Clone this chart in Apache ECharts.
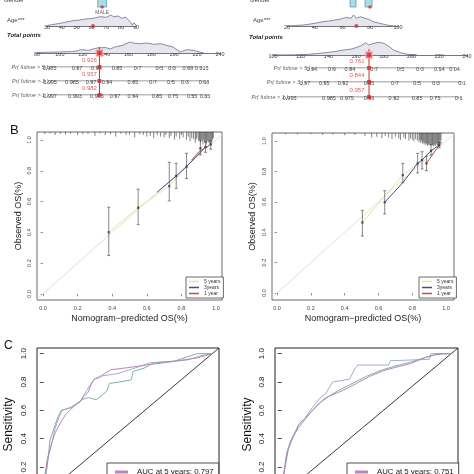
<!DOCTYPE html>
<html><head><meta charset="utf-8">
<script src="https://cdn.jsdelivr.net/npm/echarts@6.0.0/dist/echarts.min.js"></script>
<style>html,body{margin:0;padding:0;background:#fff;}#c{width:474px;height:474px;}</style>
</head><body><div id="c"></div>
<script>
// ================= A: nomogram data =================
// left nomogram
const ageXL = [30, 34, 38.8, 44, 47.5, 52, 56, 61, 66, 70, 73, 75, 78, 80.5, 83, 86, 87.5, 88.5, 89.5, 90.5];
const ageDL = [0.5, 1.5, 2.7, 4.3, 5.3, 6, 7, 7.7, 9.3, 8.7, 11, 9.3, 10, 7.7, 9, 4.3, 1, 3.3, 1.5, 0];
const ageValL = 61;
const totXL = [80, 90, 100, 110, 115, 118, 125, 132, 140, 144, 148, 155, 161, 164, 170, 176, 182, 188, 193, 199, 205, 211, 217, 222, 226];
const totDL = [0.3, 0.8, 1, 1.5, 2, 3.3, 2.7, 5, 5.5, 4, 6, 7.7, 11, 10, 9.3, 10, 8.7, 9.3, 7.7, 6, 1, 3.3, 2.7, 1, 0];
const totValL = 134.6;
const row5PosL = [91, 115, 132, 150, 168, 187, 198, 212, 224];
const row5LabL = ['0.985', '0.97', '0.94', '0.85', '0.7', '0.5', '0.3', '0.08', '0.015'];
const row3PosL = [91.4, 110.6, 127.2, 141.2, 163.9, 181.4, 197.1, 209.3, 226];
const row3LabL = ['0.995', '0.985', '0.97', '0.94', '0.85', '0.7', '0.5', '0.3', '0.08'];
const row1PosL = [91.4, 113.2, 132.4, 148.2, 163.9, 184.9, 198.9, 215.5, 226.9];
const row1LabL = ['0.997', '0.993', '0.985', '0.97', '0.94', '0.85', '0.75', '0.55', '0.35'];
const predL = ['0.926', '0.957', '0.982'];
const genderBoxL = [[57, 67]];
const genderDotL = 62;
// right nomogram
const ageXR = [20, 32, 40, 46, 52, 58, 63, 66, 68, 70, 73, 76, 79, 82, 87, 92, 97];
const ageDR = [0, 1, 2.7, 4.3, 5.3, 6.7, 8.7, 7.7, 11, 7.7, 9.3, 7.7, 6.7, 4.3, 2.7, 1, 0];
const ageValR = 70;
const totXR = [100, 122, 134, 144, 151, 157, 163, 167, 169, 173, 176, 180, 184, 187, 192, 197, 204];
const totDR = [0, 0.3, 1.7, 3.3, 5, 6, 9, 12.3, 10, 11.7, 12.7, 11.7, 8.3, 5, 2.3, 0.7, 0];
const totValR = 169.3;
const row5PosR = [128, 142.5, 155.5, 173, 192, 206, 220, 231];
const row5LabR = ['0.94', '0.9', '0.84', '0.7', '0.5', '0.3', '0.14', '0.04'];
const row3PosR = [123, 137, 150.5, 169.3, 188, 204, 217.6, 236.4];
const row3LabR = ['0.97', '0.95', '0.92', '0.85', '0.7', '0.5', '0.3', '0.1'];
const row1PosR = [112, 140.4, 153.4, 169.3, 187.3, 204, 217, 234];
const row1LabR = ['0.995', '0.985', '0.975', '0.96', '0.92', '0.85', '0.75', '0.6'];
const predR = ['0.761', '0.844', '0.957'];
const genderBoxR = [[56.8, 62.2], [70.3, 76.6]];
const genderDotR = 74.8;
const rowNames = ['Pr( futime > 5 )', 'Pr( futime > 3 )', 'Pr( futime > 1 )'];

// ================= B: calibration data =================
const calSeriesNames = ['5 years', '3years', '1 year'];
const calL5 = [[0.38, 0.40], [0.55, 0.56], [0.73, 0.70], [0.83, 0.827], [0.91, 0.946]];
const calL3 = [[0.66, 0.66], [0.77, 0.766], [0.83, 0.827], [0.94, 0.955]];
const calL1 = [[0.86, 0.87], [0.91, 0.93], [0.97, 0.972]];
const calLBarX = [0.38, 0.55, 0.73, 0.77, 0.83, 0.91, 0.94, 0.97];
const calLBarY = [0.40, 0.56, 0.70, 0.766, 0.827, 0.946, 0.955, 0.972];
const calLBarLo = [0.249, 0.45, 0.604, 0.686, 0.749, 0.903, 0.92, 0.94];
const calLBarHi = [0.563, 0.68, 0.855, 0.849, 0.914, 1.0, 0.99, 0.995];
const rugLX = [0.01,0.04,0.07,0.10,0.13,0.16,0.20,0.23,0.26,0.30,0.33,0.36,0.39,0.42,0.45,0.48,0.50,0.53,0.56,0.58,0.60,0.62,0.64,0.66,0.68,0.70,0.71,0.73,0.74,0.76,0.77,0.79,0.80,0.81,0.83,0.84,0.85,0.86,0.87,0.88,0.885,0.89,0.90,0.905,0.91,0.915,0.92,0.925,0.93,0.935,0.94,0.945,0.95,0.955,0.96,0.965,0.97,0.975,0.98,0.985];
const rugLL = [0.015,0.01,0.02,0.012,0.018,0.01,0.02,0.015,0.012,0.025,0.01,0.02,0.015,0.03,0.012,0.02,0.018,0.035,0.015,0.02,0.03,0.025,0.04,0.02,0.03,0.035,0.02,0.04,0.025,0.05,0.03,0.045,0.02,0.035,0.05,0.03,0.06,0.04,0.045,0.07,0.05,0.04,0.06,0.05,0.07,0.045,0.06,0.08,0.05,0.07,0.06,0.08,0.055,0.07,0.065,0.08,0.06,0.07,0.05,0.04];
const calR5 = [[0.505, 0.464], [0.744, 0.776], [0.832, 0.853]];
const calR3 = [[0.637, 0.597], [0.744, 0.726], [0.832, 0.853], [0.858, 0.875], [0.911, 0.936], [0.96, 0.974]];
const calR1 = [[0.884, 0.853], [0.96, 0.974], [0.975, 0.99]];
const calRBarX = [0.505, 0.637, 0.744, 0.832, 0.858, 0.884, 0.911, 0.96];
const calRBarY = [0.464, 0.597, 0.776, 0.853, 0.875, 0.853, 0.936, 0.974];
const calRBarLo = [0.375, 0.52, 0.726, 0.79, 0.816, 0.805, 0.908, 0.956];
const calRBarHi = [0.544, 0.673, 0.853, 0.919, 0.93, 0.9, 0.978, 0.99];
const rugRX = [0.05,0.12,0.20,0.27,0.33,0.40,0.46,0.52,0.56,0.59,0.62,0.64,0.66,0.68,0.70,0.72,0.73,0.75,0.76,0.78,0.79,0.80,0.81,0.82,0.83,0.84,0.845,0.85,0.855,0.86,0.865,0.87,0.875,0.88,0.885,0.89,0.895,0.90,0.905,0.91,0.915,0.92,0.925,0.93,0.935,0.94,0.945,0.95,0.955,0.96,0.965,0.97];
const rugRL = [0.008,0.01,0.008,0.012,0.01,0.015,0.012,0.02,0.03,0.025,0.035,0.02,0.03,0.04,0.025,0.035,0.045,0.03,0.04,0.05,0.035,0.045,0.055,0.04,0.05,0.06,0.045,0.065,0.05,0.07,0.06,0.075,0.065,0.08,0.07,0.085,0.075,0.08,0.07,0.085,0.075,0.08,0.09,0.075,0.085,0.08,0.07,0.085,0.075,0.08,0.065,0.05];

// ================= C: ROC data =================
const rocNamesL = ['AUC at 5 years: 0.797', 'AUC at 3 years', 'AUC at 1 year'];
const rocNamesR = ['AUC at 5 years: 0.751', 'AUC at 3 years ', 'AUC at 1 year '];
const rocL5 = [[0,0],[0.005,0.1],[0.008,0.15],[0.02,0.25],[0.037,0.32],[0.05,0.38],[0.067,0.44],[0.085,0.48],[0.107,0.53],[0.13,0.57],[0.156,0.6],[0.18,0.63],[0.215,0.66],[0.24,0.7],[0.265,0.73],[0.28,0.78],[0.30,0.82],[0.33,0.83],[0.35,0.85],[0.40,0.887],[0.49,0.9],[0.61,0.92],[0.77,0.945],[0.91,0.97],[1,1]];
const rocL3 = [[0,0],[0.01,0.12],[0.02,0.2],[0.037,0.39],[0.06,0.47],[0.085,0.557],[0.105,0.6],[0.166,0.62],[0.2,0.65],[0.225,0.675],[0.265,0.69],[0.31,0.675],[0.34,0.7],[0.374,0.735],[0.39,0.79],[0.45,0.8],[0.52,0.815],[0.53,0.875],[0.6,0.9],[0.65,0.935],[0.77,0.945],[0.91,1.0],[1,1]];
const rocL1 = [[0,0],[0.008,0.12],[0.027,0.27],[0.05,0.38],[0.067,0.47],[0.09,0.55],[0.11,0.6],[0.156,0.62],[0.215,0.66],[0.27,0.77],[0.3,0.82],[0.33,0.84],[0.44,0.86],[0.52,0.89],[0.63,0.935],[0.85,0.955],[0.93,0.985],[1,1]];
const rocR5 = [[0,0],[0.01,0.12],[0.03,0.3],[0.06,0.4],[0.1,0.48],[0.14,0.54],[0.18,0.6],[0.22,0.65],[0.28,0.7],[0.36,0.74],[0.44,0.79],[0.52,0.84],[0.6,0.88],[0.66,0.9],[0.76,0.93],[0.84,0.97],[0.9,0.99],[0.96,1.0],[1,1]];
const rocR3 = [[0,0],[0.01,0.14],[0.04,0.33],[0.07,0.42],[0.1,0.5],[0.15,0.56],[0.2,0.62],[0.25,0.68],[0.32,0.73],[0.4,0.78],[0.5,0.84],[0.58,0.88],[0.66,0.91],[0.76,0.94],[0.84,0.97],[0.92,1.0],[1,1]];
const rocR1 = [[0,0],[0.01,0.15],[0.03,0.3],[0.05,0.38],[0.08,0.45],[0.1,0.5],[0.14,0.55],[0.18,0.62],[0.22,0.68],[0.26,0.72],[0.3,0.8],[0.4,0.82],[0.434,0.9],[0.45,0.92],[0.63,0.92],[0.64,0.95],[0.87,0.96],[0.88,1.0],[1,1]];
const rocTicks = [0, 0.2, 0.4, 0.6, 0.8, 1.0];
const calTicks = [0, 0.2, 0.4, 0.6, 0.8, 1.0];

// ================= build =================
const FONT = 'Liberation Sans, Arial, sans-serif';
const zip = (a, b) => a.map((v, i) => [v, b[i]]);
const grids = [], xAxes = [], yAxes = [], series = [], legends = [], graphics = [];
function addGrid(g, xa, ya) {
  grids.push(Object.assign({ outerBoundsMode: 'none', containLabel: false }, g));
  const i = grids.length - 1;
  xAxes.push(Object.assign({ gridIndex: i, type: 'value', splitLine: { show: false } }, xa));
  yAxes.push(Object.assign({ gridIndex: i, type: 'value', splitLine: { show: false } }, ya));
  return i;
}
const hidden = (min, max) => ({ show: false, min, max });
const RED = '#d42a2a';
const nomAxisLine = { show: true, lineStyle: { color: '#555', width: 0.8 } };
const nomLabel = { fontSize: 5.5, color: '#444', margin: 1, verticalAlign: 'middle', fontFamily: FONT, hideOverlap: false };

function nomogram(c) {
  // gender
  const gi = addGrid({ left: c.ageLeft, width: c.ageWidth, top: -8, height: 15 }, hidden(0, 100), hidden(0, 1));
  series.push({ type: 'custom', xAxisIndex: gi, yAxisIndex: gi, data: c.genderBoxes, silent: true,
    renderItem: (p, api) => { const a = api.coord([api.value(0), 1]); const b = api.coord([api.value(1), 0]);
      return { type: 'rect', shape: { x: a[0], y: a[1], width: b[0] - a[0], height: b[1] - a[1] }, style: { fill: '#acdbe4', stroke: '#5a9fb0', lineWidth: 0.8 } }; } });
  series.push({ type: 'scatter', xAxisIndex: gi, yAxisIndex: gi, data: [[c.genderDot, 0]], symbol: 'circle', symbolSize: 3.5,
    itemStyle: { color: RED }, label: { show: !!c.genderLabel, formatter: c.genderLabel || '', position: 'bottom', distance: 1.5, fontSize: 5, color: '#333', fontFamily: FONT }, z: 5 });
  // age
  const ai = addGrid({ left: c.ageLeft, width: c.ageWidth, top: 14, height: 12 },
    { min: c.ageMin, max: c.ageMax, interval: c.ageInt, axisLine: nomAxisLine, axisTick: { show: true, length: 1.5, lineStyle: { color: '#555', width: 0.6 } }, axisLabel: nomLabel },
    hidden(0, 12));
  series.push({ type: 'line', xAxisIndex: ai, yAxisIndex: ai, data: zip(c.ageX, c.ageD), symbol: 'none', silent: true,
    lineStyle: { color: '#5d5d82', width: 0.7 }, areaStyle: { color: '#e6e6ee', opacity: 1 }, z: 1 });
  series.push({ type: 'scatter', xAxisIndex: ai, yAxisIndex: ai, data: [[c.ageVal, 0]], symbolSize: 4, itemStyle: { color: RED }, z: 5 });
  // total points
  const ti = addGrid({ left: c.totLeft, width: c.totWidth, top: c.totY - 14, height: 14 },
    { min: c.totMin, max: c.totMax, interval: 20, axisLine: nomAxisLine, axisTick: { show: true, length: 1.5, lineStyle: { color: '#555', width: 0.6 } }, axisLabel: nomLabel },
    hidden(0, 14));
  series.push({ type: 'line', xAxisIndex: ti, yAxisIndex: ti, data: zip(c.totX, c.totD), symbol: 'none', silent: true,
    lineStyle: { color: '#5d5d82', width: 0.7 }, areaStyle: { color: '#e6e6ee', opacity: 1 }, z: 1 });
  // red vertical line
  const ri = addGrid({ left: c.totLeft, width: c.totWidth, top: c.redTop, height: c.rowY[2] - c.redTop },
    hidden(c.totMin, c.totMax), hidden(0, 1));
  series.push({ type: 'line', xAxisIndex: ri, yAxisIndex: ri, data: [[c.totVal, 0], [c.totVal, 1]], symbol: 'none', silent: true,
    lineStyle: { color: RED, width: 1 }, z: 4 });
  series.push({ type: 'scatter', xAxisIndex: ti, yAxisIndex: ti, data: [[c.totVal, 0]], symbol: 'rect', symbolSize: 6,
    itemStyle: { color: '#e02828', borderColor: '#f3a0a0', borderWidth: 1.5 }, z: 6 });
  // probability rows
  c.rows.forEach((r, k) => {
    const gi2 = addGrid({ left: c.totLeft, width: c.totWidth, top: c.rowY[k] - 1, height: 1 },
      { min: c.totMin, max: c.totMax, axisLine: { show: false },
        axisTick: { show: true, customValues: r.pos, length: 1.5, lineStyle: { color: '#555', width: 0.6 } },
        axisLabel: Object.assign({}, nomLabel, { customValues: r.pos, formatter: v => { const j = r.pos.indexOf(v); return j >= 0 ? r.lab[j] : ''; } }) },
      hidden(0, 1));
    series.push({ type: 'line', xAxisIndex: gi2, yAxisIndex: gi2, data: [[r.pos[0], 0], [r.pos[r.pos.length - 1], 0]], symbol: 'none', silent: true,
      lineStyle: { color: '#555', width: 0.8 }, z: 2 });
    series.push({ type: 'scatter', xAxisIndex: gi2, yAxisIndex: gi2, data: [[r.pos[0], 0]], symbolSize: 1, itemStyle: { color: 'rgba(0,0,0,0)' }, silent: true,
      label: { show: true, position: 'left', distance: 1, formatter: rowNames[k], fontSize: 5.5, fontStyle: 'italic', color: '#333', fontFamily: FONT } });
    series.push({ type: 'scatter', xAxisIndex: gi2, yAxisIndex: gi2, data: [[c.totVal, 0]], symbol: 'rect', symbolSize: 4, itemStyle: { color: RED }, z: 6,
      label: { show: true, formatter: c.pred[k], position: 'top', distance: 2, offset: [c.predOff, 0], fontSize: 6, color: '#d83030', fontFamily: FONT } });
  });
}

nomogram({ ageLeft: 47, ageWidth: 89, ageMin: 30, ageMax: 90, ageInt: 10, ageX: ageXL, ageD: ageDL, ageVal: ageValL,
  totLeft: 37, totWidth: 183, totY: 53, totMin: 80, totMax: 240, totX: totXL, totD: totDL, totVal: totValL,
  rowY: [67, 81, 95], redTop: 47, predOff: -10, pred: predL,
  rows: [{ pos: row5PosL, lab: row5LabL }, { pos: row3PosL, lab: row3LabL }, { pos: row1PosL, lab: row1LabL }],
  genderBoxes: genderBoxL, genderDot: genderDotL, genderLabel: 'MALE' });
nomogram({ ageLeft: 287, ageWidth: 111, ageMin: 20, ageMax: 100, ageInt: 20, ageX: ageXR, ageD: ageDR, ageVal: ageValR,
  totLeft: 273, totWidth: 194, totY: 55, totMin: 100, totMax: 240, totX: totXR, totD: totDR, totVal: totValR,
  rowY: [68, 82, 97], redTop: 49, predOff: -12, pred: predR,
  rows: [{ pos: row5PosR, lab: row5LabR }, { pos: row3PosR, lab: row3LabR }, { pos: row1PosR, lab: row1LabR }],
  genderBoxes: genderBoxR, genderDot: genderDotR, genderLabel: '' });

const calColors = ['#e4e49a', '#4a4a8c', '#c0504d'];
function calib(c) {
  const tickFmt = v => v.toFixed(1);
  const i = addGrid({ left: c.left, top: c.top, width: c.width, height: c.height, show: true, borderColor: '#444', borderWidth: 0.8 },
    { min: c.xmin, max: c.xmax, axisLine: { show: false },
      axisTick: { show: true, customValues: calTicks, length: 2.5, lineStyle: { color: '#444', width: 0.6 } },
      axisLabel: { customValues: calTicks, formatter: tickFmt, fontSize: 5.5, color: '#444', margin: 5, fontFamily: FONT },
      name: 'Nomogram\u2212predicted OS(%)', nameLocation: 'middle', nameGap: 14, nameTextStyle: { fontSize: 9, color: '#222', fontFamily: FONT } },
    { min: c.ymin, max: c.ymax, axisLine: { show: false },
      axisTick: { show: true, customValues: calTicks, length: 2.5, lineStyle: { color: '#444', width: 0.6 } },
      axisLabel: { customValues: calTicks, formatter: tickFmt, fontSize: 5.5, color: '#444', margin: 5, rotate: 90, fontFamily: FONT },
      name: 'Observed OS(%)', nameLocation: 'middle', nameGap: c.yGap, nameTextStyle: { fontSize: 9, color: '#222', fontFamily: FONT } });
  series.push({ type: 'line', xAxisIndex: i, yAxisIndex: i, data: [[c.xmin, c.xmin], [c.xmax, c.xmax]], symbol: 'none', silent: true,
    lineStyle: { color: '#dcdcd0', width: 0.9 }, z: 1 });
  c.lines.forEach((d, k) => series.push({ type: 'line', name: calSeriesNames[k], xAxisIndex: i, yAxisIndex: i, data: d, symbol: 'none',
    itemStyle: { color: calColors[k] }, lineStyle: { color: calColors[k], width: 1 }, z: 3 }));
  series.push({ type: 'custom', xAxisIndex: i, yAxisIndex: i, silent: true, z: 4,
    data: c.barX.map((x, j) => [x, c.barLo[j], c.barHi[j]]),
    renderItem: (p, api) => { const lo = api.coord([api.value(0), api.value(1)]); const hi = api.coord([api.value(0), api.value(2)]);
      const st = { stroke: '#555', lineWidth: 0.7 };
      return { type: 'group', children: [
        { type: 'line', shape: { x1: lo[0], y1: lo[1], x2: hi[0], y2: hi[1] }, style: st },
        { type: 'line', shape: { x1: lo[0] - 1.5, y1: lo[1], x2: lo[0] + 1.5, y2: lo[1] }, style: st },
        { type: 'line', shape: { x1: hi[0] - 1.5, y1: hi[1], x2: hi[0] + 1.5, y2: hi[1] }, style: st } ] }; } });
  series.push({ type: 'scatter', xAxisIndex: i, yAxisIndex: i, data: zip(c.barX, c.barY), symbol: 'rect', symbolSize: 2.2,
    itemStyle: { color: '#333' }, silent: true, z: 5 });
  series.push({ type: 'custom', xAxisIndex: i, yAxisIndex: i, silent: true, z: 4,
    data: zip(c.rugX, c.rugL),
    renderItem: (p, api) => { const a = api.coord([api.value(0), c.ymax]); const b = api.coord([api.value(0), c.ymax - api.value(1)]);
      return { type: 'line', shape: { x1: a[0], y1: a[1], x2: b[0], y2: b[1] }, style: { stroke: '#333', lineWidth: 0.6 } }; } });
  legends.push({ left: c.legLeft, top: c.legTop, orient: 'vertical', itemGap: 1, itemWidth: 10, itemHeight: 1.5, icon: 'rect',
    padding: [2, 3, 2, 3], borderColor: '#444', borderWidth: 0.8, backgroundColor: '#fff', selectedMode: false,
    textStyle: { fontSize: 5, color: '#333', fontFamily: FONT }, data: calSeriesNames });
}
calib({ left: 37, top: 132, width: 185, height: 168, xmin: -0.035, xmax: 1.035, ymin: -0.04, ymax: 1.052, yGap: 14,
  lines: [calL5, calL3, calL1], barX: calLBarX, barY: calLBarY, barLo: calLBarLo, barHi: calLBarHi, rugX: rugLX, rugL: rugLL,
  legLeft: 186, legTop: 277 });
calib({ left: 272, top: 133, width: 182, height: 167, xmin: -0.03, xmax: 1.047, ymin: -0.046, ymax: 1.053, yGap: 15,
  lines: [calR5, calR3, calR1], barX: calRBarX, barY: calRBarY, barLo: calRBarLo, barHi: calRBarHi, rugX: rugRX, rugL: rugRL,
  legLeft: 419, legTop: 277 });

const rocColors = ['#b985b9', '#7fb0a8', '#a7abd0'];
function roc(c) {
  const i = addGrid({ left: c.left, top: 348, width: c.width, height: 153, show: true, borderColor: '#222', borderWidth: 1 },
    { min: -0.04, max: 1.04, axisLine: { show: false }, axisTick: { show: false }, axisLabel: { show: false } },
    { min: -0.04, max: 1.04, axisLine: { show: false },
      axisTick: { show: true, customValues: rocTicks, length: 4, lineStyle: { color: '#222', width: 0.8 } },
      axisLabel: { customValues: rocTicks, formatter: v => v.toFixed(1), fontSize: 8, color: '#222', margin: 9, rotate: 90, fontFamily: FONT },
      name: 'Sensitivity', nameLocation: 'middle', nameGap: c.nameGap, nameTextStyle: { fontSize: 12, color: '#111', fontFamily: FONT } });
  series.push({ type: 'line', xAxisIndex: i, yAxisIndex: i, data: [[-0.04, -0.04], [1.04, 1.04]], symbol: 'none', silent: true,
    lineStyle: { color: '#222', width: 0.9 }, z: 2 });
  [c.l5, c.l3, c.l1].forEach((d, k) => series.push({ type: 'line', name: c.names[k], xAxisIndex: i, yAxisIndex: i, data: d, symbol: 'none',
    itemStyle: { color: rocColors[k] }, lineStyle: { color: rocColors[k], width: 1 }, z: 4 - k * 0.1 }));
  legends.push({ left: c.legLeft, top: 463, orient: 'vertical', itemWidth: 13, itemHeight: 3, icon: 'rect', selectedMode: false,
    padding: [5, c.legPadR, 8, 8], borderColor: '#222', borderWidth: 0.8, backgroundColor: '#fff',
    textStyle: { fontSize: 7.8, color: '#222', fontFamily: FONT, padding: [0, 0, 0, 4] }, data: [c.names[0]] });
}
roc({ left: 37, width: 182, names: rocNamesL, l5: rocL5, l3: rocL3, l1: rocL1, nameGap: 22, legLeft: 107, legPadR: 5 });
roc({ left: 275, width: 183, names: rocNamesR, l5: rocR5, l3: rocR3, l1: rocR1, nameGap: 21, legLeft: 347, legPadR: 5 });

const txt = (left, top, text, size, extra) => graphics.push({ type: 'text', left, top, silent: true,
  style: Object.assign({ text, fontSize: size, fill: '#444', fontFamily: FONT }, extra || {}) });
txt(4, -3, 'Gender', 6); txt(7, 17, 'Age***', 6); txt(7, 32, 'Total points', 6, { fontWeight: 'bold', fontStyle: 'italic', fill: '#222' });
txt(250, -3, 'Gender', 6); txt(253, 17, 'Age***', 6); txt(249, 34, 'Total points', 6, { fontWeight: 'bold', fontStyle: 'italic', fill: '#222' });
txt(10, 124, 'B', 13, { fill: '#111' }); txt(4, 340, 'C', 12, { fill: '#111' });

const chart = echarts.init(document.getElementById('c'), null, { renderer: 'canvas' });
chart.setOption({
  animation: false, backgroundColor: '#fff', textStyle: { fontFamily: FONT },
  grid: grids, xAxis: xAxes, yAxis: yAxes, series, legend: legends, graphic: graphics, tooltip: { show: false }
});
</script></body></html>
